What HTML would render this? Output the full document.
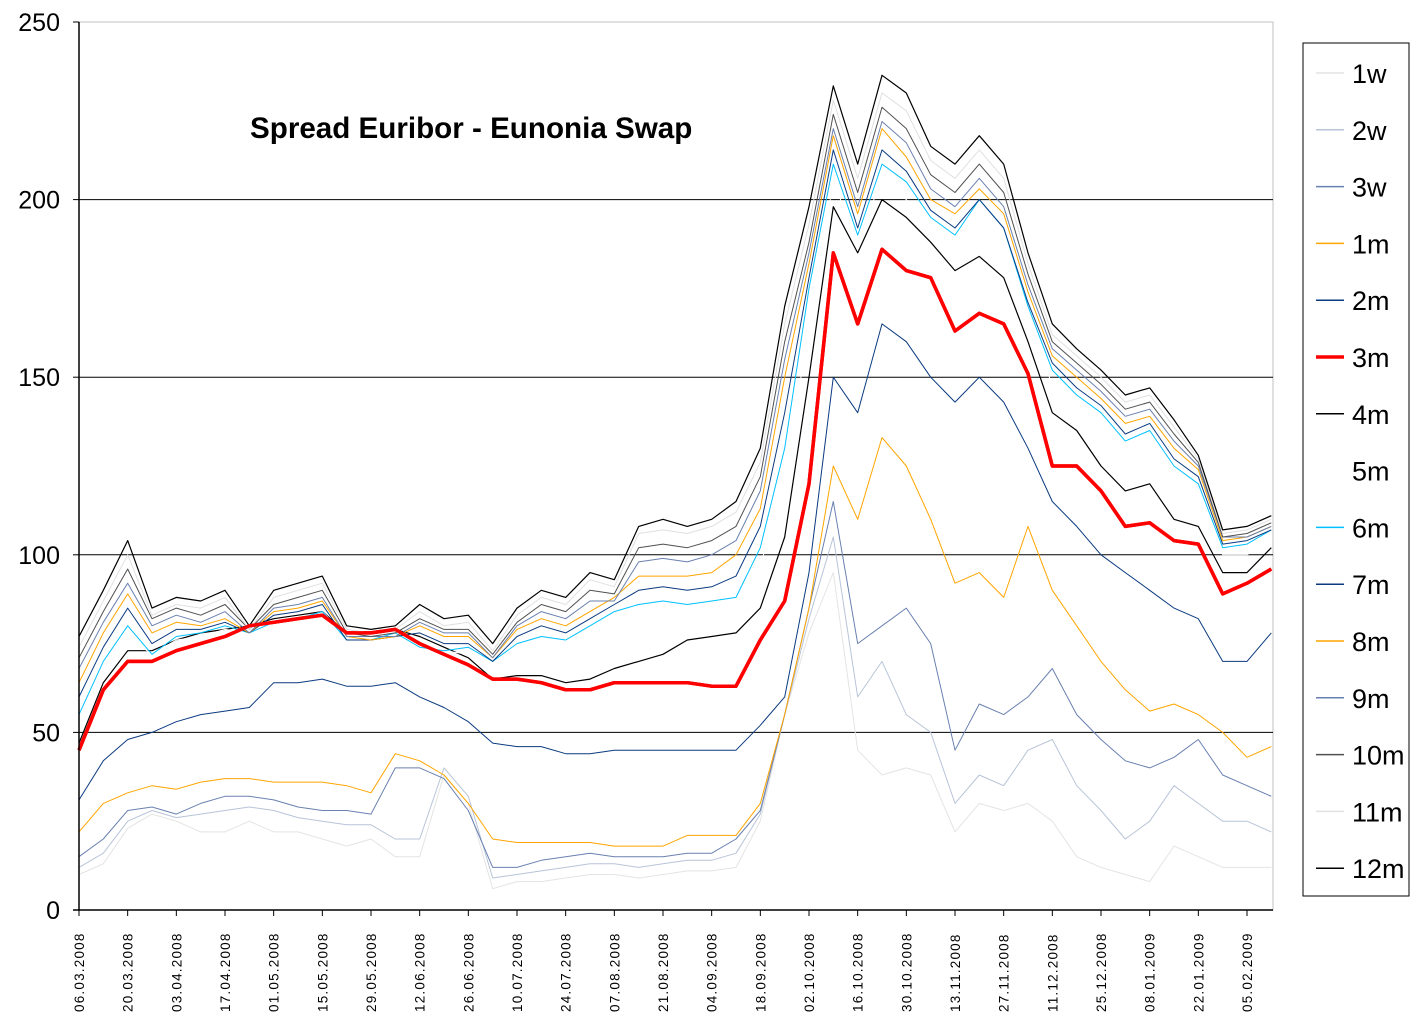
<!DOCTYPE html>
<html><head><meta charset="utf-8">
<style>
html,body{margin:0;padding:0;background:#fff;}
svg{display:block;font-family:"Liberation Sans",sans-serif;}
</style></head>
<body>
<svg id="chart" width="1425" height="1032" viewBox="0 0 1425 1032" xmlns="http://www.w3.org/2000/svg">
<rect x="0" y="0" width="1425" height="1032" fill="#fff"/>
<g id="grid"></g>
<g id="series"></g>
<g id="axes"></g>
<text x="250" y="138" font-size="29.6" font-weight="bold" fill="#000">Spread Euribor - Eunonia Swap</text>
<g id="legend"></g>
</svg>
<script>
const dayOffsets = [0,7,14,21,28,35,42,49,56,63,70,77,84,91,98,105,112,119,126,133,140,147,154,161,168,175,182,189,196,203,210,217,224,231,238,245,252,259,266,273,280,287,294,301,308,315,322,329,336,343];
const tickLabels = ["06.03.2008","20.03.2008","03.04.2008","17.04.2008","01.05.2008","15.05.2008","29.05.2008","12.06.2008","26.06.2008","10.07.2008","24.07.2008","07.08.2008","21.08.2008","04.09.2008","18.09.2008","02.10.2008","16.10.2008","30.10.2008","13.11.2008","27.11.2008","11.12.2008","25.12.2008","08.01.2009","22.01.2009","05.02.2009"];
const yTicks = [0,50,100,150,200,250];
const seriesNames = ["1w","2w","3w","1m","2m","3m","4m","5m","6m","7m","8m","9m","10m","11m","12m"];
const s1w = [10,13,23,27,25,22,22,25,22,22,20,18,20,15,15,38,30,6,8,8,9,10,10,9,10,11,11,12,25,55,78,95,45,38,40,38,22,30,28,30,25,15,12,10,8,18,15,12,12,12];
const s2w = [12,16,25,28,26,27,28,29,28,26,25,24,24,20,20,40,32,9,10,11,12,13,13,12,13,14,14,16,27,55,82,105,60,70,55,50,30,38,35,45,48,35,28,20,25,35,30,25,25,22];
const s3w = [15,20,28,29,27,30,32,32,31,29,28,28,27,40,40,37,28,12,12,14,15,16,15,15,15,16,16,20,28,55,85,115,75,80,85,75,45,58,55,60,68,55,48,42,40,43,48,38,35,32];
const s1m = [22,30,33,35,34,36,37,37,36,36,36,35,33,44,42,38,30,20,19,19,19,19,18,18,18,21,21,21,30,55,85,125,110,133,125,110,92,95,88,108,90,80,70,62,56,58,55,50,43,46];
const s2m = [31,42,48,50,53,55,56,57,64,64,65,63,63,64,60,57,53,47,46,46,44,44,45,45,45,45,45,45,52,60,95,150,140,165,160,150,143,150,143,130,115,108,100,95,90,85,82,70,70,78];
const s3m = [45,62,70,70,73,75,77,80,81,82,83,78,78,79,75,72,69,65,65,64,62,62,64,64,64,64,63,63,76,87,120,185,165,186,180,178,163,168,165,151,125,125,118,108,109,104,103,89,92,96];
const s4m = [47,64,73,73,76,78,79,80,82,83,84,78,78,79,77,74,71,65,66,66,64,65,68,70,72,76,77,78,85,105,150,198,185,200,195,188,180,184,178,160,140,135,125,118,120,110,108,95,95,102];
const s5m = [52,67,77,72,76,77,79,78,81,82,84,77,77,78,75,73,72,68,72,73,72,75,80,82,84,84,85,86,97,120,165,205,188,206,200,192,186,192,185,165,148,140,134,126,128,118,115,100,100,104];
const s6m = [55,70,80,72,77,78,80,78,81,82,84,76,76,78,74,73,74,70,75,77,76,80,84,86,87,86,87,88,102,130,175,210,190,210,205,195,190,200,192,170,152,145,140,132,135,125,120,102,103,107];
const s7m = [60,74,85,75,79,79,81,78,83,84,86,76,76,77,78,75,75,70,77,80,78,82,86,90,91,90,91,94,108,140,178,214,192,214,208,197,192,200,192,171,154,147,142,134,137,127,122,103,104,107];
const s8m = [64,78,89,78,81,80,82,78,84,85,87,77,76,77,80,77,77,71,79,82,80,84,88,94,94,94,95,100,113,150,182,218,196,220,212,200,196,203,196,174,156,150,144,137,139,130,124,104,105,108];
const s9m = [68,81,92,80,83,81,84,78,85,86,88,77,77,77,81,78,78,71,80,84,82,87,87,98,99,98,100,104,118,155,185,220,198,222,216,203,198,206,198,176,158,152,146,139,141,132,125,105,105,108];
const s10m = [71,84,96,82,85,83,86,79,86,88,90,78,77,78,82,79,79,72,81,86,84,90,89,102,103,102,104,108,122,160,188,224,202,226,220,207,202,210,202,179,160,154,148,141,143,134,126,105,106,109];
const s11m = [74,87,100,83,86,85,88,79,88,90,92,79,78,79,84,80,81,73,83,88,86,93,91,106,107,106,108,112,126,165,193,228,206,230,225,211,206,214,206,182,162,156,150,143,145,136,127,106,107,110];
const s12m = [77,90,104,85,88,87,90,80,90,92,94,80,79,80,86,82,83,75,85,90,88,95,93,108,110,108,110,115,130,170,198,232,210,235,230,215,210,218,210,185,165,158,152,145,147,138,128,107,108,111];

const allSeries = [s1w,s2w,s3w,s1m,s2m,s3m,s4m,s5m,s6m,s7m,s8m,s9m,s10m,s11m,s12m];
const colors = ["#e4e4e4","#b8c4d8","#6a80b0","#ffa500","#0a3a80","#ff0000","#000000","#ffffff","#00c0ff","#0a3a80","#ffa500","#6a80b0","#505050","#e0e0e0","#000000"];
const widths = [1,1,1,1,1,3.5,1.2,1,1,1,1,1,1,1,1.2];

const X0=79, X1=1273, Y0=910, Y1=22;
const dayPx = (1247-79)/336;
function xs(d){return X0 + d*dayPx;}
function ys(v){return Y0 - (v/250)*(Y0-Y1);}
const NS="http://www.w3.org/2000/svg";
function mk(tag, attrs, parent){const e=document.createElementNS(NS,tag);for(const k in attrs)e.setAttribute(k,attrs[k]);parent.appendChild(e);return e;}

const grid=document.getElementById('grid');
mk('rect',{x:X0,y:Y1,width:X1-X0,height:Y0-Y1,fill:'none',stroke:'#c0c0c0','stroke-width':1},grid);
yTicks.forEach(v=>{
  if(v>0&&v<250){const l=mk('line',{x1:X0,x2:X1,y1:ys(v),y2:ys(v),stroke:'#000','stroke-width':1},grid);
  
  }
});

const sg=document.getElementById('series');
allSeries.forEach((arr,i)=>{
  const pts=arr.map((v,j)=>xs(dayOffsets[j]).toFixed(1)+','+ys(v).toFixed(1)).join(' ');
  const p=mk('polyline',{points:pts,fill:'none',stroke:colors[i],'stroke-width':widths[i],'stroke-linejoin':'round'},sg);
  
  
});
{const arr=s3m;const pts=arr.map((v,j)=>xs(dayOffsets[j]).toFixed(1)+','+ys(v).toFixed(1)).join(' ');
const p=mk('polyline',{points:pts,fill:'none',stroke:'#ff0000','stroke-width':3.5,'stroke-linejoin':'round'},sg);

}

const ax=document.getElementById('axes');
mk('line',{x1:X0,x2:X0,y1:Y1,y2:Y0+1,stroke:'#000','stroke-width':1.5},ax);
mk('line',{x1:X0-6,x2:X1,y1:Y0,y2:Y0,stroke:'#000','stroke-width':1.5},ax);
yTicks.forEach(v=>{
  mk('line',{x1:X0-6,x2:X0,y1:ys(v),y2:ys(v),stroke:'#000'},ax);
  const t=mk('text',{x:60,y:ys(v)+9,'text-anchor':'end','font-size':25,fill:'#000'},ax);
  t.textContent=v;
  
  
});
tickLabels.forEach((lab,i)=>{
  const x=xs(i*14);
  mk('line',{x1:x,x2:x,y1:Y0,y2:Y0+6,stroke:'#000'},ax);
  const t=mk('text',{x:0,y:0,transform:`translate(${x+5},${1012}) rotate(-90)`,'font-size':13.5,'letter-spacing':'1.2',fill:'#000'},ax);
  t.textContent=lab;
  
  
});

const lg=document.getElementById('legend');
mk('rect',{x:1303,y:43,width:106,height:853,fill:'#fff',stroke:'#000','stroke-width':1},lg);
seriesNames.forEach((n,i)=>{
  const y=73+i*56.8;
  const g=mk('g',{},lg);
  
  
  mk('line',{x1:1316,x2:1344,y1:y,y2:y,stroke:colors[i],'stroke-width':widths[i]>2?3.5:1.5},g);
  const t=mk('text',{x:1352,y:y+10,'font-size':27,fill:'#000'},g);
  t.textContent=n;
});
</script>
</body></html>
